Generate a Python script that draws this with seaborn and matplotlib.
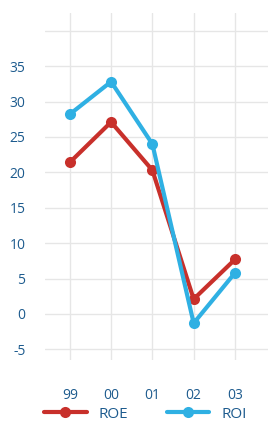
import matplotlib
matplotlib.use('Agg')
import matplotlib.pyplot as plt
import pandas as pd
import seaborn as sns

# chart values
years = ['99', '00', '01', '02', '03']
roe = [21.4, 27.1, 20.3, 2.1, 7.7]
roi = [28.2, 32.8, 24.0, -1.3, 5.8]
y_ticks = [-5, 0, 5, 10, 15, 20, 25, 30, 35]

df = pd.DataFrame({
    'x': list(range(len(years))) * 2,
    'value': roe + roi,
    'series': ['ROE'] * len(years) + ['ROI'] * len(years),
})

sns.set_style('white')
plt.rcParams['font.family'] = ['Open Sans', 'DejaVu Sans']

fig = plt.figure(figsize=(2.77, 4.25), dpi=100)
ax = fig.add_axes([45 / 277, 1 - 360 / 425, 223 / 277, 347 / 425])

g = sns.lineplot(data=df, x='x', y='value', hue='series',
                 palette={'ROE': '#c8302b', 'ROI': '#2fb0e3'},
                 marker='o', markersize=8, linewidth=3,
                 markeredgewidth=0, ax=ax, legend=True)

ax.set_xlim(-0.6, 4.8)
ax.set_ylim(-6.5, 42.5)
ax.set_xticks(range(len(years)))
ax.set_xticklabels(years)
ax.set_yticks(y_ticks + [40])
ax.set_yticklabels([str(t) for t in y_ticks] + [''])
ax.set_xlabel('')
ax.set_ylabel('')
ax.grid(True, color='#e6e6e6', linewidth=1)
for s in ax.spines.values():
    s.set_visible(False)
ax.tick_params(axis='both', length=0, labelsize=10, labelcolor='#1d5b8e')
ax.tick_params(axis='y', pad=14)
ax.tick_params(axis='x', pad=20)

ax.legend(handles=ax.get_legend().legend_handles,
          labels=['ROE', 'ROI'], loc='upper center',
          bbox_to_anchor=(0.45, -0.095), ncol=2, frameon=False,
          fontsize=11, labelcolor='#1d5b8e', handlelength=2.8,
          columnspacing=2.5, handletextpad=0.8)

fig.savefig('out.png', dpi=100)
